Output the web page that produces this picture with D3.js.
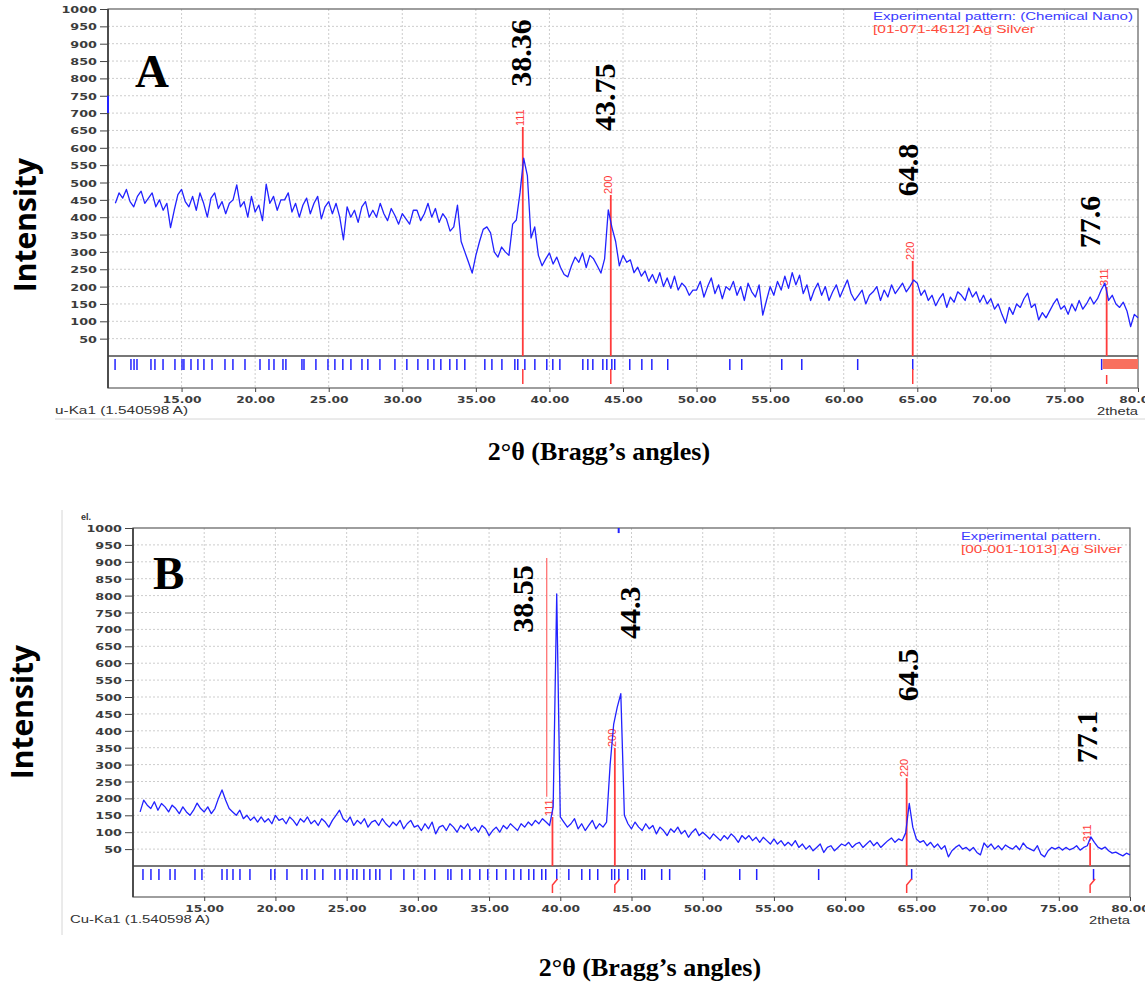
<!DOCTYPE html>
<html>
<head>
<meta charset="utf-8">
<script src="https://cdn.jsdelivr.net/npm/d3@7"></script>
<style>
  body { margin: 0; background: #fff; }
</style>
</head>
<body>
<div id="chart"></div>
<script>
// axis ticks
const xTicks = [15, 20, 25, 30, 35, 40, 45, 50, 55, 60, 65, 70, 75, 80];
const yTicks = [50, 100, 150, 200, 250, 300, 350, 400, 450, 500, 550, 600, 650, 700, 750, 800, 850, 900, 950, 1000];

// scan grid (2theta start + step), intensities
const scanStart = 10.5;
const scanStep = 0.25;

const intensityA = [
  440, 470,
  455, 480, 445, 430,  460, 475, 440, 455,  470, 430, 450, 420,  440, 370, 420, 465,   // 11-14
  480, 445, 430, 460,  420, 470, 440, 400,  455, 470, 425, 445,  410, 440, 450, 493,   // 15-18
  430, 445, 400, 460,  415, 435, 390, 495,  440, 460, 420, 450,  450, 470, 415, 440,   // 19-22
  400, 435, 455, 410,  440, 460, 395, 430,  445, 410, 440, 400,  335, 430, 400, 420,   // 23-26
  385, 430, 445, 400,  420, 400, 440, 410,  390, 425, 405, 380,  410, 395, 380, 420,   // 27-30
  420, 390, 410, 440,  400, 425, 385, 410,  395, 360, 372, 435,  330, 300, 270, 239,   // 31-34
  290, 330, 365, 372,  355, 300, 285, 314,  300, 290, 380, 392,  470, 570, 520, 340,   // 35-38
  372, 290, 260, 280,  297, 265, 285, 256,  235, 228, 260, 285,  270, 297, 255, 290,   // 39-42
  280, 260, 239, 280,  421, 370, 330, 260,  290, 270, 277, 240,  256, 230, 245, 215,   // 43-46
  235, 210, 240, 200,  225, 195, 230, 190,  210, 199, 175, 190,  190, 215, 170, 200,   // 47-50
  225, 180, 205, 165,  200, 190, 215, 175,  200, 160, 210, 185,  170, 205, 118, 160,   // 51-54
  200, 175, 215, 190,  230, 195, 240, 205,  233, 180, 205, 160,  190, 210, 175, 200,   // 55-58
  160, 185, 205, 170,  195, 219, 180, 160,  175, 190, 150, 175,  185, 200, 160, 190,   // 59-62
  170, 205, 180, 195,  210, 185, 200, 219,  210, 175, 190, 160,  175, 145, 165, 180,   // 63-66
  140, 170, 155, 185,  175, 160, 196, 170,  185, 155, 175, 150,  165, 135, 150, 120,   // 67-70
  95, 140, 120, 150,   140, 165, 181, 140,  150, 104, 125, 110,  130, 150, 165, 135,   // 71-74
  145, 120, 150, 130,  160, 135, 150, 170,  150, 165, 190, 210,  160, 175, 150, 140,   // 75-78
  155, 130, 85, 120,
  110
];

const intensityB = [
  160, 195,
  180, 170, 190, 165,  185, 175, 160, 180,  170, 155, 175, 160,  150, 165, 186, 170,   // 11-14
  160, 175, 155, 170,  200, 225, 195, 170,  160, 150, 165, 140,  150, 135, 145, 130,   // 15-18
  145, 130, 140, 125,  150, 135, 140, 125,  145, 135, 120, 140,  130, 145, 125, 135,   // 19-22
  120, 140, 130, 115,  135, 150, 165, 140,  130, 145, 120, 135,  125, 140, 115, 130,   // 23-26
  135, 120, 140, 125,  115, 130, 120, 135,  110, 125, 135, 115,  120, 105, 125, 110,   // 27-30
  130, 95, 115, 120,   105, 125, 115, 100,  120, 110, 125, 105,  115, 100, 120, 110,   // 31-34
  90, 105, 115, 100,   120, 110, 125, 115,  105, 125, 115, 130,  120, 135, 125, 140,   // 35-38
  130, 120, 175, 805,  145, 130, 115, 125,  140, 110, 125, 105,  120, 135, 110, 125,   // 39-42
  115, 130, 300, 420,  470, 510, 150, 125,  110, 130, 115, 105,  125, 110, 120, 95,    // 43-46
  115, 105, 90, 110,   100, 115, 95, 105,   85, 100, 110, 90,    100, 90, 80, 95,      // 47-50
  85, 75, 90, 80,      95, 85, 70, 90,      80, 90, 75, 85,      70, 85, 75, 65,       // 51-54
  80, 65, 75, 60,      70, 60, 75, 55,      65, 50, 60, 45,      55, 65, 40, 55,       // 55-58
  60, 45, 55, 65,      60, 70, 55, 65,      70, 55, 65, 75,      60, 70, 55, 65,       // 59-62
  75, 83, 70, 80,      75, 98, 185, 115,    80, 70, 75, 60,      70, 55, 65, 50,       // 63-66
  60, 27, 45, 55,      62, 50, 55, 45,      55, 40, 33, 68,      55, 65, 50, 60,       // 67-70
  48, 62, 55, 50,      60, 48, 68, 55,      50, 45, 60, 35,      27, 45, 55, 50,       // 71-74
  56, 47, 55, 48,      52, 60, 47, 55,      60, 86, 70, 56,      50, 56, 45, 38,       // 75-78
  41, 35, 30, 38,
  33
];

// reference (Ag) lines: position, height, hkl
const refAngleA = [38.19, 44.17, 64.69, 77.87];
const refHeightA = [660, 464, 274, 199];
const refAngleB = [39.45, 43.83, 64.32, 77.2];
const refHeightB = [145, 349, 260, 68];
const hklLabels = ["111", "200", "220", "311"];

// peak-list sticks under the baseline
const sticksA = [10.48, 11.56, 11.77, 11.97, 12.92, 13.19, 13.74, 14.55, 15.03, 15.16, 15.64, 16.11, 16.52,
  17.07, 17.95, 18.49, 19.31, 20.33, 20.94, 21.28, 21.89, 22.09, 23.18, 23.32, 24.13, 24.95, 25.42,
  25.96, 26.51, 27.26, 27.66, 28.48, 29.50, 30.31, 31.06, 31.74, 32.15, 32.62, 33.23, 33.71, 34.25,
  35.61, 36.09, 36.77, 37.65, 37.85, 38.33, 39.01, 39.82, 40.23, 40.71, 42.27, 42.61, 42.95, 43.63,
  43.90, 44.24, 44.44, 45.46, 46.28, 46.96, 48.04, 52.26, 53.07, 55.79, 57.15, 60.95, 64.69, 77.53];
const sticksB = [10.70, 11.26, 11.82, 12.60, 12.95, 14.35, 14.84, 16.25, 16.60, 17.02, 17.51, 18.21,
  19.68, 19.96, 20.81, 21.86, 22.21, 22.77, 23.33, 24.18, 24.53, 25.02, 25.44, 25.72, 26.21, 26.63,
  27.05, 27.33, 28.11, 29.02, 29.72, 30.49, 31.19, 32.11, 32.32, 33.09, 33.65, 34.35, 34.91, 35.54,
  36.18, 36.74, 37.23, 37.79, 38.14, 38.70, 38.98, 39.75, 40.60, 41.51, 42.07, 42.63, 43.61, 43.82,
  44.11, 44.74, 45.72, 45.93, 47.12, 47.68, 50.14, 52.60, 53.79, 58.14, 64.67, 77.44];
const bandA = [77.6, 80];

// hand-written peak annotations
const peakTextA = ["38.36", "43.75", "64.8", "77.6"];
const peakAngleA = [38.74, 44.44, 65.03, 77.39];
const peakLevelA = [873, 746, 536, 386];
const peakTextB = ["38.55", "44.3", "64.5", "77.1"];
const peakAngleB = [38.07, 45.58, 65.09, 77.65];
const peakLevelB = [790, 749, 565, 382];

// extra marks in the scans
const markerLineB = [39.05, 911, 205];   // angle, from, to
const axisMarkA = [700, 750];
const topMarkB = [44.1, 985, 1000];

const svg = d3.select("#chart").append("svg")
  .attr("width", 1145)
  .attr("height", 989)
  .style("font-family", "'Liberation Sans', Arial, sans-serif");

const BLUE = "#2222ff";
const RED = "#ff3b3b";

function drawPanel(p) {
  const x = d3.scaleLinear().domain([10, 80]).range([p.left, p.right]);
  const y = d3.scaleLinear().domain([0, 1000]).range([p.base, p.top]);
  const g = svg.append("g");

  // dotted grid
  g.selectAll(".hg").data(yTicks.filter(v => v < 1000)).join("line")
    .attr("x1", p.left).attr("x2", p.right)
    .attr("y1", d => y(d)).attr("y2", d => y(d))
    .attr("stroke", "#cdcdcd").attr("stroke-dasharray", "2,2");
  g.selectAll(".vg").data(xTicks.filter(v => v < 80)).join("line")
    .attr("x1", d => x(d)).attr("x2", d => x(d))
    .attr("y1", p.top).attr("y2", p.bottom)
    .attr("stroke", "#cdcdcd").attr("stroke-dasharray", "2,2");

  // frame, zero line
  g.append("rect")
    .attr("x", p.left).attr("y", p.top)
    .attr("width", p.right - p.left).attr("height", p.bottom - p.top)
    .attr("fill", "none").attr("stroke", "#6a6a6a").attr("stroke-width", 1.3);
  g.append("line")
    .attr("x1", p.left).attr("x2", p.right).attr("y1", p.base).attr("y2", p.base)
    .attr("stroke", "#4a4a4a").attr("stroke-width", 1.3);
  g.append("line")
    .attr("x1", p.left).attr("x2", p.left).attr("y1", p.top).attr("y2", p.bottom)
    .attr("stroke", "#3a3a3a").attr("stroke-width", 1.6);

  // y axis
  const ya = g.append("g").attr("transform", `translate(${p.left},0)`)
    .call(d3.axisLeft(y).tickValues(yTicks).tickSize(8).tickPadding(3).tickFormat(d3.format("d")));
  ya.select(".domain").remove();
  ya.selectAll(".tick line").attr("stroke", "#444");
  ya.selectAll(".tick text")
    .attr("x", null).attr("dy", null)
    .attr("transform", "translate(-11,3.5) scale(1.42,1)")
    .style("font-family", "'DejaVu Sans', Verdana, sans-serif")
    .style("font-weight", "bold").style("font-size", "9px").attr("fill", "#3c3c3c");

  // x axis (last label runs off the edge, as in the scan)
  const xa = g.append("g").attr("transform", `translate(0,${p.bottom})`)
    .call(d3.axisBottom(x).tickValues(xTicks).tickSize(4).tickPadding(4).tickFormat(d3.format(".2f")));
  xa.select(".domain").remove();
  xa.selectAll(".tick line").attr("stroke", "#444");
  xa.selectAll(".tick text")
    .attr("y", null).attr("dy", null)
    .attr("transform", "translate(0,15) scale(1.36,1)")
    .style("font-family", "'DejaVu Sans', Verdana, sans-serif")
    .style("font-weight", "bold").style("font-size", "9px").attr("fill", "#3c3c3c");

  // reference lines
  g.selectAll(".ref").data(p.refAngle).join("line")
    .attr("x1", d => x(d)).attr("x2", d => x(d))
    .attr("y1", (d, i) => y(p.refHeight[i])).attr("y2", p.base)
    .attr("stroke", RED).attr("stroke-width", 1.8);
  g.selectAll(".hkl").data(p.refAngle).join("text")
    .attr("transform", (d, i) => `translate(${x(d) + 1},${y(p.refHeight[i]) - 1}) rotate(-90)`)
    .attr("fill", RED).style("font-size", "11px")
    .text((d, i) => hklLabels[i]);

  // sticks
  g.selectAll(".stk").data(p.sticks).join("line")
    .attr("x1", d => x(d)).attr("x2", d => x(d))
    .attr("y1", p.base + 3).attr("y2", p.base + 14)
    .attr("stroke", BLUE).attr("stroke-width", 1.5);
  if (p.slanted) {
    g.selectAll(".rmk").data(p.refAngle).join("path")
      .attr("d", d => `M${x(d)},${p.base + 27} L${x(d)},${p.base + 19} L${x(d) + 5},${p.base + 13}`)
      .attr("fill", "none").attr("stroke", RED).attr("stroke-width", 1.5);
  } else {
    g.selectAll(".rmk").data(p.refAngle).join("line")
      .attr("x1", d => x(d)).attr("x2", d => x(d))
      .attr("y1", (d, i) => p.base + (i === 3 ? 19 : 13)).attr("y2", p.base + 28)
      .attr("stroke", RED).attr("stroke-width", 1.5);
  }
  if (p.band) {
    g.append("rect")
      .attr("x", x(p.band[0])).attr("y", p.base + 3)
      .attr("width", x(p.band[1]) - x(p.band[0])).attr("height", 10)
      .attr("fill", "#f8705e");
  }

  // measured pattern
  const line = d3.line()
    .x((d, i) => x(scanStart + i * scanStep))
    .y(d => y(d));
  g.append("path").datum(p.intensity)
    .attr("d", line)
    .attr("fill", "none").attr("stroke", BLUE).attr("stroke-width", 1.3)
    .attr("stroke-linejoin", "round");

  // peak annotations
  g.selectAll(".pk").data(p.peakText).join("text")
    .attr("transform", (d, i) => `translate(${x(p.peakAngle[i])},${y(p.peakLevel[i])}) rotate(-90)`)
    .attr("text-anchor", "middle")
    .style("font-family", "'Liberation Serif', 'Times New Roman', serif")
    .style("font-weight", "bold").style("font-size", "30px")
    .text(d => d);

  // panel letter
  g.append("text").attr("x", p.letterX).attr("y", p.letterY)
    .style("font-family", "'Liberation Serif', 'Times New Roman', serif")
    .style("font-weight", "bold").style("font-size", "47px")
    .text(p.letter);

  // legend
  g.append("text").attr("x", p.legendX).attr("y", p.legendY)
    .attr("fill", "#3a3aff").style("font-size", "10px")
    .attr("textLength", p.legendLen[0]).attr("lengthAdjust", "spacingAndGlyphs")
    .text(p.legend[0]);
  g.append("text").attr("x", p.legendX).attr("y", p.legendY + 13)
    .attr("fill", "#ff4a3a").style("font-size", "10px")
    .attr("textLength", p.legendLen[1]).attr("lengthAdjust", "spacingAndGlyphs")
    .text(p.legend[1]);

  // radiation note and axis unit
  g.append("text").attr("x", p.noteX).attr("y", p.bottom + 26)
    .attr("fill", "#333").style("font-size", "10px")
    .attr("textLength", p.noteLen).attr("lengthAdjust", "spacingAndGlyphs")
    .text(p.note);
  g.append("text").attr("x", p.right).attr("y", p.bottom + 27)
    .attr("text-anchor", "end").attr("fill", "#333").style("font-size", "10px")
    .attr("textLength", 41).attr("lengthAdjust", "spacingAndGlyphs")
    .text("2theta");

  // outer titles
  g.append("text")
    .attr("transform", `translate(${p.ylabX},${p.ylabY}) rotate(-90)`)
    .attr("text-anchor", "middle")
    .style("font-family", "'Open Sans', 'Liberation Sans', sans-serif")
    .style("font-weight", "bold").style("font-size", "30px")
    .text("Intensity");
  g.append("text")
    .attr("x", p.xlabX).attr("y", p.xlabY)
    .attr("text-anchor", "middle")
    .style("font-family", "'Liberation Serif', 'Times New Roman', serif")
    .style("font-weight", "bold").style("font-size", "26px")
    .text("2°θ (Bragg’s angles)");

  return { g, x, y };
}

const A = drawPanel({
  left: 108, right: 1138, top: 9, base: 356, bottom: 388,
  intensity: intensityA, refAngle: refAngleA, refHeight: refHeightA,
  sticks: sticksA, band: bandA, slanted: false,
  peakText: peakTextA, peakAngle: peakAngleA, peakLevel: peakLevelA,
  letter: "A", letterX: 135, letterY: 87,
  legend: ["Experimental pattern: (Chemical Nano)", "[01-071-4612] Ag Silver"],
  legendLen: [260, 162], legendX: 873, legendY: 20,
  note: "u-Ka1 (1.540598 A)", noteX: 55, noteLen: 133,
  ylabX: 36, ylabY: 225, xlabX: 599, xlabY: 460
});
// short blue mark on the y axis of A
A.g.append("line")
  .attr("x1", 108).attr("x2", 108)
  .attr("y1", A.y(axisMarkA[1])).attr("y2", A.y(axisMarkA[0]))
  .attr("stroke", BLUE).attr("stroke-width", 2);
// bottom border of panel A image
A.g.append("line").attr("x1", 55).attr("x2", 1145).attr("y1", 419).attr("y2", 419)
  .attr("stroke", "#d6d6d6");

const B = drawPanel({
  left: 133, right: 1130, top: 528, base: 866, bottom: 897,
  intensity: intensityB, refAngle: refAngleB, refHeight: refHeightB,
  sticks: sticksB, band: null, slanted: true,
  peakText: peakTextB, peakAngle: peakAngleB, peakLevel: peakLevelB,
  letter: "B", letterX: 153, letterY: 589,
  legend: ["Experimental pattern.", "[00-001-1013]  Ag Silver"],
  legendLen: [140, 161], legendX: 961, legendY: 540,
  note: "Cu-Ka1 (1.540598 A)", noteX: 70, noteLen: 140,
  ylabX: 33, ylabY: 712, xlabX: 650, xlabY: 976
});
// thin tall red marker line in B
B.g.append("line")
  .attr("x1", B.x(markerLineB[0])).attr("x2", B.x(markerLineB[0]))
  .attr("y1", B.y(markerLineB[1])).attr("y2", B.y(markerLineB[2]))
  .attr("stroke", "#ff5a5a").attr("stroke-width", 1.1);
B.g.append("line")
  .attr("x1", B.x(topMarkB[0])).attr("x2", B.x(topMarkB[0]))
  .attr("y1", B.y(topMarkB[2])).attr("y2", B.y(topMarkB[1]))
  .attr("stroke", BLUE).attr("stroke-width", 2);
B.g.append("text").attr("x", 81).attr("y", 520)
  .attr("fill", "#333").style("font-size", "9px").style("font-weight", "bold")
  .text("el.");
B.g.append("line").attr("x1", 62).attr("x2", 62).attr("y1", 510).attr("y2", 935)
  .attr("stroke", "#d6d6d6");
</script>
</body>
</html>
